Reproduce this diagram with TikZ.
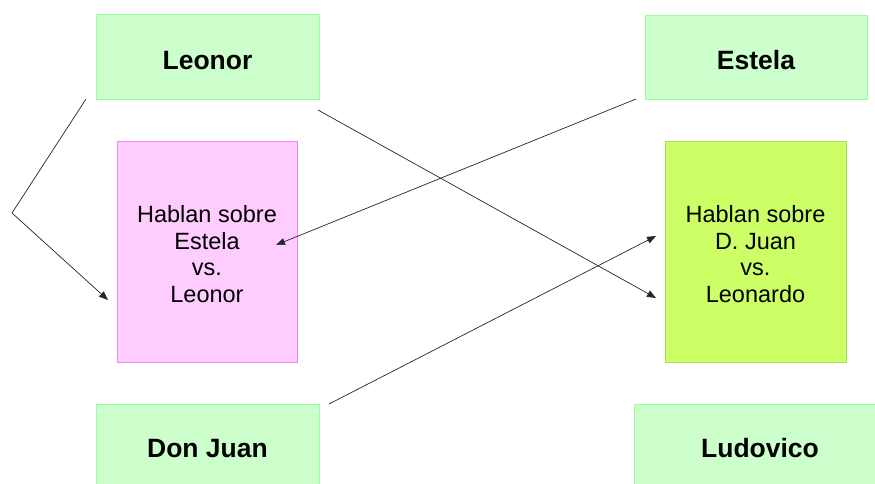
\documentclass[tikz,border=0pt]{standalone}
\usepackage{fontspec}
\setmainfont{Liberation Sans}
\usetikzlibrary{arrows.meta}
\definecolor{gfill}{HTML}{CCFFCC}
\definecolor{gline}{HTML}{99FF99}
\definecolor{pfill}{HTML}{FFCCFF}
\definecolor{pline}{HTML}{EE88EE}
\definecolor{yfill}{HTML}{CCFF66}
\definecolor{yline}{HTML}{AADD55}
\tikzset{
  namebox/.style={draw=gline, fill=gfill, line width=0.8pt, inner sep=0pt,
    text height=25pt, text depth=0pt,
    font=\fontsize{26.5}{30}\selectfont\bfseries},
  talkbox/.style={line width=0.8pt, inner sep=0pt},
  talktext/.style={align=center, inner sep=0pt, yshift=-2.5pt,
    font=\fontsize{23.5}{26.5}\selectfont},
  conn/.style={line width=0.7pt, black!85},
  arr/.style={conn, -{Triangle[length=9pt,width=7pt]}}
}
\begin{document}
\begin{tikzpicture}[x=1pt,y=-1pt]
\useasboundingbox (0,0) rectangle (875,483);
\clip (0,0) rectangle (875,483);
\fill[white] (0,0) rectangle (875,483);
\node[namebox, minimum width=223pt, minimum height=85pt] (leonor) at (207.5,56.5) {Leonor};
\node[namebox, minimum width=222pt, minimum height=84pt] (estela) at (756,57) {Estela};
\node[namebox, minimum width=223pt, minimum height=82pt] (donjuan) at (207.5,445) {Don Juan};
\node[namebox, minimum width=252pt, minimum height=82pt] (ludovico) at (760,445) {Ludovico};
\node[talkbox, draw=pline, fill=pfill, minimum width=180pt, minimum height=221pt,
  label={[talktext]center:{Hablan sobre\\Estela\\vs.\\Leonor}}] (pink) at (207,251.5) {};
\node[talkbox, draw=yline, fill=yfill, minimum width=181pt, minimum height=221pt,
  label={[talktext]center:{Hablan sobre\\D. Juan\\vs.\\Leonardo}}] (lime) at (755.5,251.5) {};
\coordinate (la) at (86,99);
\coordinate (lb) at (12,213);
\coordinate (lc) at (108,300);
\coordinate (ea) at (636,99);
\coordinate (eb) at (276,245);
\coordinate (ra) at (318,110);
\coordinate (rb) at (656,298);
\coordinate (da) at (329,404);
\coordinate (db) at (656,236);
\draw[arr] (la) -- (lb) -- (lc);
\draw[arr] (ea) -- (eb);
\draw[arr] (ra) -- (rb);
\draw[arr] (da) -- (db);
\end{tikzpicture}
\end{document}
